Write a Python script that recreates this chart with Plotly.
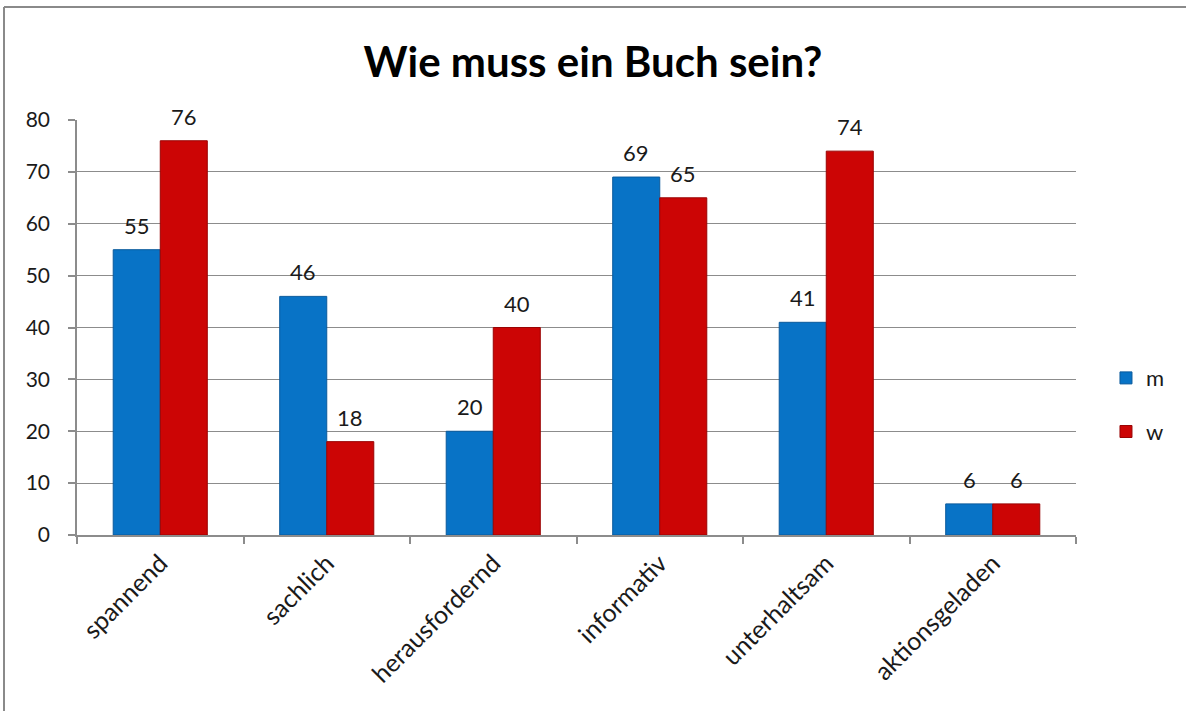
import plotly.graph_objects as go

categories = ["spannend", "sachlich", "herausfordernd", "informativ", "unterhaltsam", "aktionsgeladen"]
m_values = [55, 46, 20, 69, 41, 6]
w_values = [76, 18, 40, 65, 74, 6]
y_ticks = [0, 10, 20, 30, 40, 50, 60, 70, 80]

FONT = "Lato, 'Open Sans', sans-serif"
GRID = "#8c8c8c"
TEXT = "#1a1a1a"

W, H = 1186, 711
M_L, M_R, M_T, M_B = 77, 110, 120, 176
BARGAP = 0.435

fig = go.Figure()
fig.add_trace(go.Bar(
    name="m", x=categories, y=m_values, legendgroup="m",
    marker=dict(color="#0873c6", line=dict(color="#0a5a9c", width=1)),
))
fig.add_trace(go.Bar(
    name="w", x=categories, y=w_values, legendgroup="w",
    marker=dict(color="#cc0505", line=dict(color="#9a0404", width=1)),
))

# value labels above each bar, shifted to the centre of its bar in the group
cat_px = (W - M_L - M_R) / len(categories)
bar_px = cat_px * (1 - BARGAP) / 2
annotations = []
for values, side in ((m_values, -1), (w_values, 1)):
    for cat, v in zip(categories, values):
        annotations.append(dict(
            x=cat, y=v, xref="x", yref="y", text=str(v), showarrow=False,
            xshift=side * bar_px / 2, yshift=9, yanchor="bottom",
            font=dict(size=22, color=TEXT, family=FONT),
        ))

# chart frame: only its top and left edges fall inside the page
plot_w = W - M_L - M_R
plot_h = H - M_T - M_B
fx0 = -(M_L - 4) / plot_w
fx1 = (W - M_L) / plot_w
fy_top = (H - M_B - 7) / plot_h
fy_bot = -M_B / plot_h
frame = dict(color="#8a8a8a", width=2)
shapes = [
    dict(type="line", xref="paper", yref="paper", x0=fx0, x1=fx1, y0=fy_top, y1=fy_top, line=frame),
    dict(type="line", xref="paper", yref="paper", x0=fx0, x1=fx0, y0=fy_bot, y1=fy_top, line=frame),
]

fig.update_layout(
    width=W, height=H,
    margin=dict(l=M_L, r=M_R, t=M_T, b=M_B),
    paper_bgcolor="white", plot_bgcolor="white",
    barmode="group", bargap=BARGAP, bargroupgap=0,
    font=dict(family=FONT, color=TEXT),
    title=dict(text="<b>Wie muss ein Buch sein?</b>", x=0.5, xanchor="center",
               y=0.912, yanchor="middle", font=dict(size=42, color="black", family=FONT)),
    legend=dict(x=1.03, y=0.313, xanchor="left", yanchor="middle",
                font=dict(size=22, family=FONT, color=TEXT), itemwidth=30,
                traceorder="grouped", tracegroupgap=22, bgcolor="rgba(0,0,0,0)"),
    xaxis=dict(
        tickangle=-45, tickfont=dict(size=25, family=FONT, color=TEXT),
        showline=True, linecolor=GRID, linewidth=1.5,
        ticks="outside", tickson="boundaries", ticklen=7, tickcolor=GRID, tickwidth=1.5,
        showgrid=False, ticklabelstandoff=2,
    ),
    yaxis=dict(
        range=[0, 80], tickvals=y_ticks,
        tickfont=dict(size=21, family=FONT, color=TEXT),
        showline=True, linecolor=GRID, linewidth=1.5,
        ticks="outside", ticklen=7, tickcolor=GRID, tickwidth=1.5,
        showgrid=True, gridcolor=GRID, gridwidth=1.3,
        zeroline=False, ticklabelstandoff=14,
    ),
    annotations=annotations,
    shapes=shapes,
)

fig.write_html("out.html")
